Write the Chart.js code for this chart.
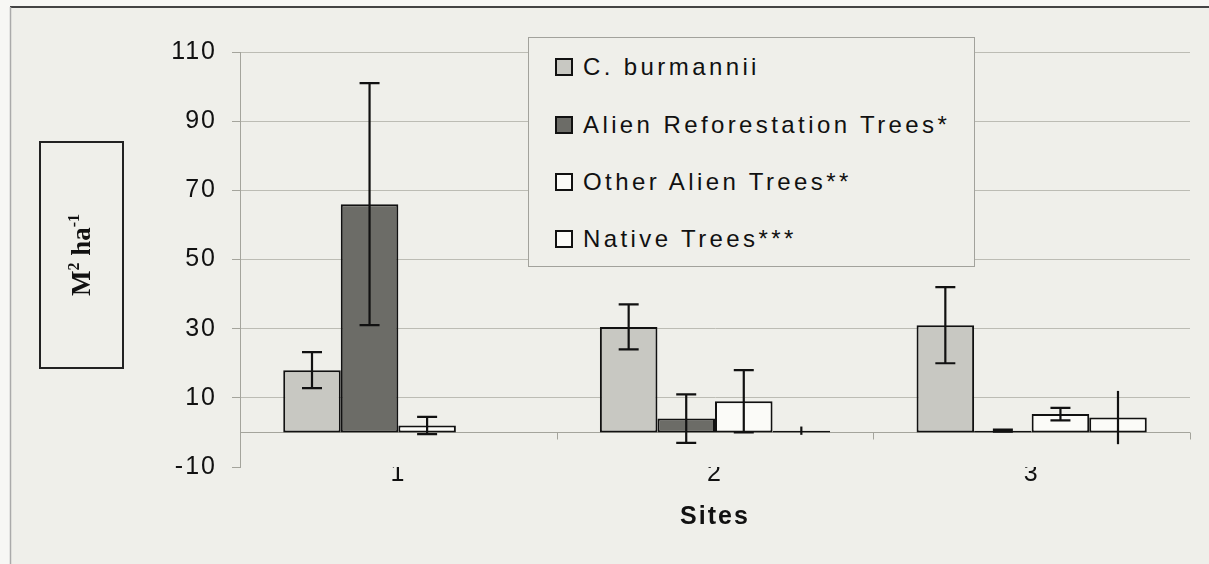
<!DOCTYPE html>
<html>
<head>
<meta charset="utf-8">
<script src="https://cdn.jsdelivr.net/npm/chart.js@4"></script>
<style>
  html, body { margin: 0; padding: 0; background: #f7f7f4; }
  #wrap { position: relative; width: 1209px; height: 564px; overflow: hidden; }
  #legend {
    position: absolute; left: 528px; top: 37px; width: 447px; height: 230px;
    border: 1px solid #a2a29c; background: #efefea; box-sizing: border-box;
    font-family: 'Liberation Sans', Arial, sans-serif; font-size: 24px; letter-spacing: 3.4px; color: #111;
  }
  .item { position: absolute; left: 26px; height: 28px; display: flex; align-items: center; white-space: nowrap; }
  .box { width: 14px; height: 14px; border: 2px solid #111; margin-right: 10px; flex: none; }
</style>
</head>
<body>
<div id="wrap">
  <canvas id="c" width="1209" height="564"></canvas>
  <div id="legend"></div>
</div>
<script>
// sites on the x axis
const sites = ['1', '2', '3'];
const seriesNames = ['C. burmannii', 'Alien Reforestation Trees*', 'Other Alien Trees**', 'Native Trees***'];

// basal area (M2 ha-1) and error per site
const burmannii = [18, 30.5, 31];
const burmanniiErr = [5.2, 6.5, 11];
const alienReforest = [66, 4, 0.5];
const alienReforestErr = [35, 7, 0.3];
const otherAlien = [2, 9, 5.3];
const otherAlienErr = [2.5, 9, 1.8];
const nativeTrees = [0, 0.5, 4.3];
const nativeTreesErr = [0, 1.2, 7.7];

const yMin = -10, yMax = 110, yStep = 20;

const colors = ['#c8c8c2', '#6c6c67', '#fbfbf8', '#fbfbf8'];
const values = [burmannii, alienReforest, otherAlien, nativeTrees];
const errors = [burmanniiErr, alienReforestErr, otherAlienErr, nativeTreesErr];
const noCaps = [false, false, false, true];

const FONT = "'Liberation Sans', Arial, sans-serif";

// legend (html, real text)
const leg = document.getElementById('legend');
const rowTops = [15, 73, 130, 187];
seriesNames.forEach((name, i) => {
    const d = document.createElement('div');
    d.className = 'item';
    d.style.top = rowTops[i] + 'px';
    d.innerHTML = `<span class="box" style="background:${colors[i]}"></span><span>${name}</span>`;
    leg.appendChild(d);
});

const framePlugin = {
    id: 'frame',
    beforeDraw(chart) {
        const ctx = chart.ctx;
        ctx.save();
        ctx.fillStyle = '#f7f7f4';
        ctx.fillRect(0, 0, chart.width, chart.height);
        ctx.fillStyle = '#efefea';
        ctx.fillRect(10, 7, chart.width - 10, chart.height - 7);
        ctx.strokeStyle = '#444';
        ctx.lineWidth = 2;
        ctx.beginPath();
        ctx.moveTo(10, 7); ctx.lineTo(chart.width, 7);
        ctx.stroke();
        ctx.strokeStyle = '#aaa';
        ctx.lineWidth = 1.5;
        ctx.beginPath();
        ctx.moveTo(10.5, 7); ctx.lineTo(10.5, chart.height);
        ctx.stroke();
        ctx.restore();
        ctx.letterSpacing = '2px';
    },
    beforeDatasetsDraw(chart) {
        // zero line with category ticks
        const { ctx, chartArea } = chart;
        const x = chart.scales.x, y = chart.scales.y;
        const y0 = Math.round(y.getPixelForValue(0)) + 0.5;
        ctx.save();
        ctx.strokeStyle = '#a4a49c';
        ctx.lineWidth = 1;
        ctx.beginPath();
        ctx.moveTo(chartArea.left, y0); ctx.lineTo(chartArea.right, y0);
        for (let j = 1; j <= sites.length; j++) {
            const bx = Math.round(x.getPixelForValue(j - 0.5)) + 0.5;
            ctx.moveTo(bx, y0); ctx.lineTo(bx, y0 + 7);
        }
        ctx.stroke();
        ctx.restore();
    },
    afterDatasetsDraw(chart) {
        // error bars
        const ctx = chart.ctx;
        const y = chart.scales.y;
        ctx.save();
        ctx.strokeStyle = '#111';
        ctx.lineWidth = 2.2;
        errors.forEach((errs, i) => {
            const meta = chart.getDatasetMeta(i);
            errs.forEach((e, j) => {
                if (!e) return;
                const bar = meta.data[j];
                const v = values[i][j];
                const yt = y.getPixelForValue(v + e), yb = y.getPixelForValue(v - e);
                ctx.beginPath();
                ctx.moveTo(bar.x, yt); ctx.lineTo(bar.x, yb);
                if (!noCaps[i]) {
                    ctx.moveTo(bar.x - 10, yt); ctx.lineTo(bar.x + 10, yt);
                    ctx.moveTo(bar.x - 10, yb); ctx.lineTo(bar.x + 10, yb);
                }
                ctx.stroke();
            });
        });
        ctx.restore();
    },
    afterDraw(chart) {
        // boxed y axis title
        const ctx = chart.ctx;
        ctx.save();
        ctx.letterSpacing = '0px';
        ctx.strokeStyle = '#222';
        ctx.lineWidth = 2;
        ctx.strokeRect(40, 142, 83, 226);
        ctx.translate(90, 255);
        ctx.rotate(-Math.PI / 2);
        ctx.fillStyle = '#111';
        ctx.textBaseline = 'alphabetic';
        const big = "bold 27px 'Liberation Serif', 'Times New Roman', serif";
        const small = "bold 16px 'Liberation Serif', 'Times New Roman', serif";
        const parts = [['M', big, 0], ['2', small, -11], [' ha', big, 0], ['-1', small, -11]];
        let w = 0;
        parts.forEach(p => { ctx.font = p[1]; w += ctx.measureText(p[0]).width; });
        let cx = -w / 2;
        parts.forEach(p => {
            ctx.font = p[1];
            ctx.fillText(p[0], cx, p[2]);
            cx += ctx.measureText(p[0]).width;
        });
        ctx.restore();
    }
};

new Chart(document.getElementById('c'), {
    type: 'bar',
    data: {
        labels: sites,
        datasets: seriesNames.map((name, i) => ({
            label: name,
            data: values[i],
            backgroundColor: colors[i],
            borderColor: '#111',
            borderWidth: 2,
            borderSkipped: false
        }))
    },
    options: {
        responsive: false,
        devicePixelRatio: 1,
        animation: false,
        layout: { padding: { top: 52, right: 19, left: 0, bottom: 0 } },
        datasets: { bar: { categoryPercentage: 0.727, barPercentage: 1 } },
        plugins: { legend: { display: false }, tooltip: { enabled: false } },
        scales: {
            x: {
                grid: { display: false, drawTicks: false },
                border: { display: false },
                ticks: { color: '#111', font: { family: FONT, size: 25 }, padding: -8 },
                title: { display: true, text: 'Sites', color: '#111', font: { family: FONT, size: 25, weight: 'bold' }, padding: { top: 0, bottom: 32 } },
                afterFit: s => { s.height = 97; }
            },
            y: {
                min: yMin, max: yMax,
                ticks: { stepSize: yStep, color: '#111', font: { family: FONT, size: 25 }, padding: 15 },
                grid: {
                    color: c => c.tick && c.tick.value === yMin ? 'rgba(0,0,0,0)' : '#bcbcb4',
                    tickColor: '#a4a49c', tickLength: 8, lineWidth: 1
                },
                border: { color: '#a4a49c', width: 1 },
                afterFit: s => { s.width = 240; }
            }
        }
    },
    plugins: [framePlugin]
});
</script>
</body>
</html>
